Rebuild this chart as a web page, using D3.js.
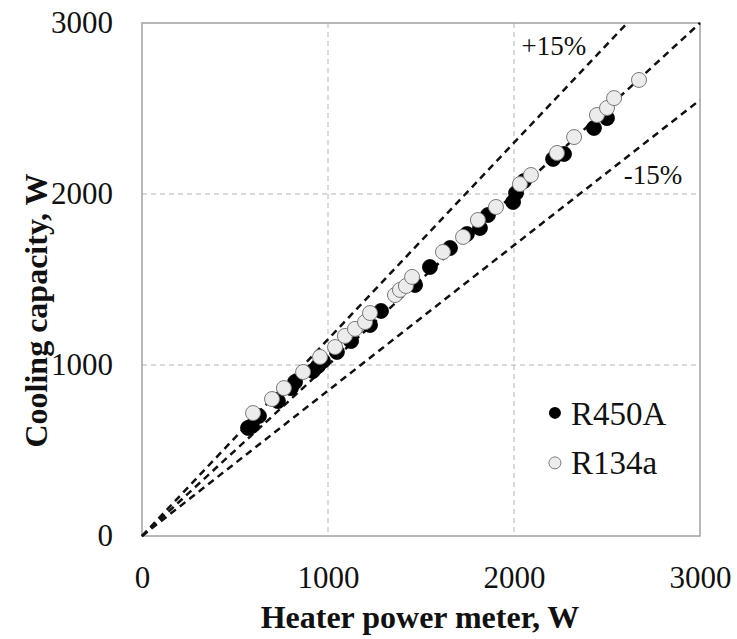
<!DOCTYPE html>
<html>
<head>
<meta charset="utf-8">
<script src="https://cdn.jsdelivr.net/npm/d3@7"></script>
<style>
  body { margin: 0; background: #fff; }
  svg { display: block; }
  svg text { font-family: "Liberation Serif", "Times New Roman", serif; }
</style>
</head>
<body>
<svg id="chart" width="737" height="639"></svg>
<script>
const ticks = [0, 1000, 2000, 3000];

// R450A (filled)
const r450aX = [570, 591, 629, 731, 801, 823, 919, 946, 973, 1048, 1124, 1226, 1285, 1468, 1548, 1656, 1747, 1817, 1860, 1995, 2011, 2054, 2210, 2269, 2430, 2500];
const r450aY = [632, 643, 702, 789, 865, 901, 965, 994, 1023, 1076, 1140, 1234, 1316, 1468, 1573, 1684, 1766, 1801, 1877, 1953, 2006, 2076, 2205, 2234, 2386, 2444];

// R134a (open)
const r134aX = [597, 699, 763, 866, 957, 1038, 1091, 1145, 1199, 1226, 1360, 1387, 1419, 1452, 1618, 1726, 1806, 1903, 2032, 2091, 2231, 2323, 2446, 2500, 2538, 2672];
const r134aY = [719, 801, 865, 959, 1047, 1105, 1170, 1211, 1251, 1304, 1409, 1439, 1462, 1515, 1661, 1749, 1848, 1924, 2058, 2111, 2240, 2333, 2462, 2503, 2561, 2667];

// reference lines: y = k * x
const refSlopes = [1, 1.15, 0.85];

const margin = {top: 23, right: 37, bottom: 103, left: 142};
const width = 737 - margin.left - margin.right;
const height = 639 - margin.top - margin.bottom;

const svg = d3.select("#chart");
const g = svg.append("g").attr("transform", `translate(${margin.left},${margin.top})`);

const x = d3.scaleLinear().domain([0, 3000]).range([0, width]);
const y = d3.scaleLinear().domain([0, 3000]).range([height, 0]);

// grid
g.selectAll(".vgrid")
  .data(ticks.slice(1, -1))
  .enter().append("line")
  .attr("x1", d => x(d)).attr("x2", d => x(d))
  .attr("y1", 0).attr("y2", height)
  .attr("stroke", "#b5b5b5").attr("stroke-width", 1).attr("stroke-dasharray", "5,4");

g.selectAll(".hgrid")
  .data(ticks.slice(1, -1))
  .enter().append("line")
  .attr("x1", 0).attr("x2", width)
  .attr("y1", d => y(d)).attr("y2", d => y(d))
  .attr("stroke", "#b5b5b5").attr("stroke-width", 1).attr("stroke-dasharray", "5,4");

// frame
g.append("rect")
  .attr("width", width).attr("height", height)
  .attr("fill", "none").attr("stroke", "#a0a0a0").attr("stroke-width", 1.5);

// axes (labels only)
const xAxis = d3.axisBottom(x).tickValues(ticks).tickSize(0).tickPadding(30).tickFormat(d3.format("d"));
const yAxis = d3.axisLeft(y).tickValues(ticks).tickSize(0).tickPadding(29).tickFormat(d3.format("d"));

g.append("g").attr("transform", `translate(0,${height})`).call(xAxis)
  .call(a => a.select(".domain").remove())
  .selectAll("text").attr("font-size", 31).attr("fill", "#111");

g.append("g").call(yAxis)
  .call(a => a.select(".domain").remove())
  .selectAll("text").attr("font-size", 31).attr("fill", "#111");

// reference lines
g.selectAll(".ref")
  .data(refSlopes)
  .enter().append("line")
  .attr("x1", x(0)).attr("y1", y(0))
  .attr("x2", k => x(Math.min(3000, 3000 / k)))
  .attr("y2", k => y(Math.min(3000, 3000 * k)))
  .attr("stroke", "#111").attr("stroke-width", 2.5).attr("stroke-dasharray", "7,5");

g.append("text").attr("x", x(2040)).attr("y", y(2810))
  .attr("font-size", 27).attr("fill", "#111").text("+15%");
g.append("text").attr("x", x(2590)).attr("y", y(2060))
  .attr("font-size", 27).attr("fill", "#111").text("-15%");

// points
g.selectAll(".p450")
  .data(r450aX.map((v, i) => [v, r450aY[i]]))
  .enter().append("circle")
  .attr("cx", d => x(d[0])).attr("cy", d => y(d[1])).attr("r", 7.5)
  .attr("fill", "#000").attr("stroke", "#000").attr("stroke-width", 0.8);

g.selectAll(".p134")
  .data(r134aX.map((v, i) => [v, r134aY[i]]))
  .enter().append("circle")
  .attr("cx", d => x(d[0])).attr("cy", d => y(d[1])).attr("r", 7.5)
  .attr("fill", "#ececec").attr("stroke", "#7a7a7a").attr("stroke-width", 1);

// legend
const legend = g.append("g").attr("transform", `translate(${x(2220)},${y(720)})`);
legend.append("circle").attr("cx", 0).attr("cy", 0).attr("r", 6).attr("fill", "#000");
legend.append("text").attr("x", 16).attr("y", 12).attr("font-size", 33).attr("fill", "#111").text("R450A");
legend.append("circle").attr("cx", 0).attr("cy", 50).attr("r", 6)
  .attr("fill", "#ececec").attr("stroke", "#7a7a7a").attr("stroke-width", 1);
legend.append("text").attr("x", 16).attr("y", 61).attr("font-size", 33).attr("fill", "#111").text("R134a");

// axis titles
svg.append("text")
  .attr("x", margin.left + width / 2 - 1).attr("y", 628)
  .attr("text-anchor", "middle").attr("font-size", 32).attr("font-weight", "bold").attr("fill", "#111")
  .text("Heater power meter, W");

svg.append("text")
  .attr("transform", `translate(47,${margin.top + height / 2 + 31}) rotate(-90)`)
  .attr("text-anchor", "middle").attr("font-size", 32).attr("font-weight", "bold").attr("fill", "#111")
  .text("Cooling capacity, W");
</script>
</body>
</html>
